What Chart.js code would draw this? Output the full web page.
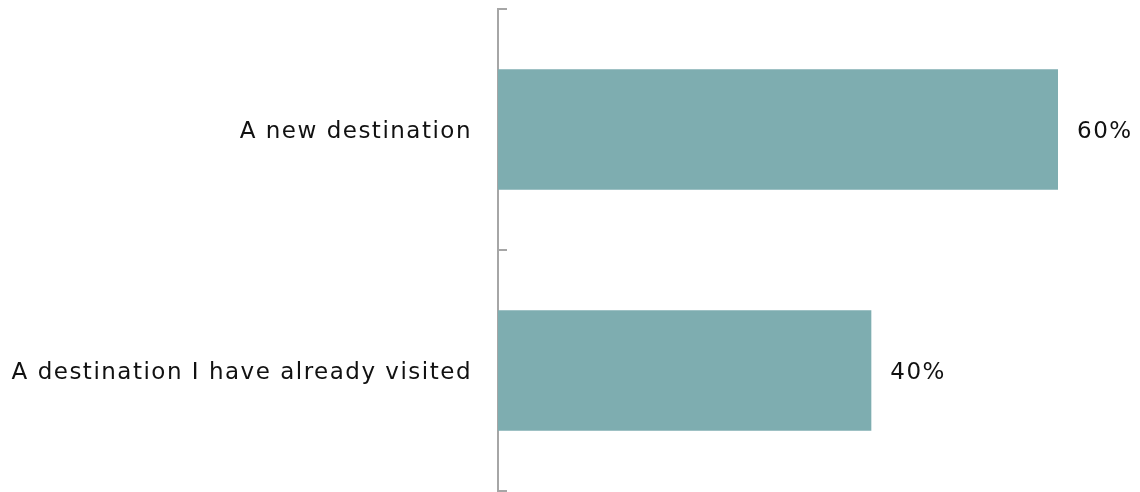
<!DOCTYPE html>
<html>
<head>
<meta charset="utf-8">
<script src="https://cdn.jsdelivr.net/npm/chart.js@4/dist/chart.umd.min.js"></script>
<style>
  html, body { margin: 0; padding: 0; background: #ffffff; }
  #wrap { width: 1140px; height: 492px; position: relative; }
</style>
</head>
<body>
<div id="wrap"><canvas id="c"></canvas></div>
<script>
// Survey answers: preferred type of destination
const categories = ['A new destination', 'A destination I have already visited'];
const shares = [60, 40];
const valueLabels = ['60%', '40%'];

const FONT = '"DejaVu Sans", sans-serif';
const FONT_SIZE = 23;
const SPACING = '1.5px';
const AXIS_GREY = '#a6a6a6';
const TEXT = '#111111';

// Wide, slightly tracked lettering for every text on the canvas
const tracking = {
  id: 'tracking',
  beforeLayout(chart) { chart.ctx.letterSpacing = SPACING; },
  beforeDraw(chart) { chart.ctx.letterSpacing = SPACING; }
};

// Short tick marks on the inner side of the category axis, at band boundaries
const bandTicks = {
  id: 'bandTicks',
  afterDraw(chart) {
    const y = chart.scales.y;
    const ctx = chart.ctx;
    ctx.save();
    ctx.strokeStyle = AXIS_GREY;
    ctx.lineWidth = 2;
    for (let i = 0; i <= categories.length; i++) {
      const py = Math.round(y.getPixelForValue(i - 0.5));
      ctx.beginPath();
      ctx.moveTo(y.right - 1, py);
      ctx.lineTo(y.right + 9, py);
      ctx.stroke();
    }
    ctx.restore();
  }
};

// Percentage labels to the right of each bar
const barValues = {
  id: 'barValues',
  afterDatasetsDraw(chart) {
    const ctx = chart.ctx;
    const meta = chart.getDatasetMeta(0);
    ctx.save();
    ctx.font = FONT_SIZE + 'px ' + FONT;
    ctx.fillStyle = TEXT;
    ctx.textAlign = 'left';
    ctx.textBaseline = 'middle';
    meta.data.forEach((bar, i) => {
      ctx.fillText(valueLabels[i], bar.x + 19, bar.y + 3);
    });
    ctx.restore();
  }
};

new Chart(document.getElementById('c'), {
  type: 'bar',
  data: {
    labels: categories,
    datasets: [{
      data: shares,
      backgroundColor: '#7eadb0',
      borderWidth: 0,
      barPercentage: 0.5,
      categoryPercentage: 1.0
    }]
  },
  options: {
    indexAxis: 'y',
    responsive: true,
    maintainAspectRatio: false,
    animation: false,
    layout: { padding: { top: 9, bottom: 1, left: 0, right: 82 } },
    plugins: { legend: { display: false }, tooltip: { enabled: false } },
    scales: {
      x: {
        display: false,
        min: 0,
        max: 60
      },
      y: {
        offset: true,
        grid: { display: false, drawTicks: false },
        border: { display: true, color: AXIS_GREY, width: 2 },
        ticks: {
          color: TEXT,
          padding: 26,
          labelOffset: 3,
          font: { family: FONT, size: FONT_SIZE }
        },
        afterFit(scale) {
          scale.width = 498;
          scale.paddingTop = 0;
          scale.paddingBottom = 0;
        }
      }
    }
  },
  plugins: [tracking, bandTicks, barValues]
});
</script>
</body>
</html>
